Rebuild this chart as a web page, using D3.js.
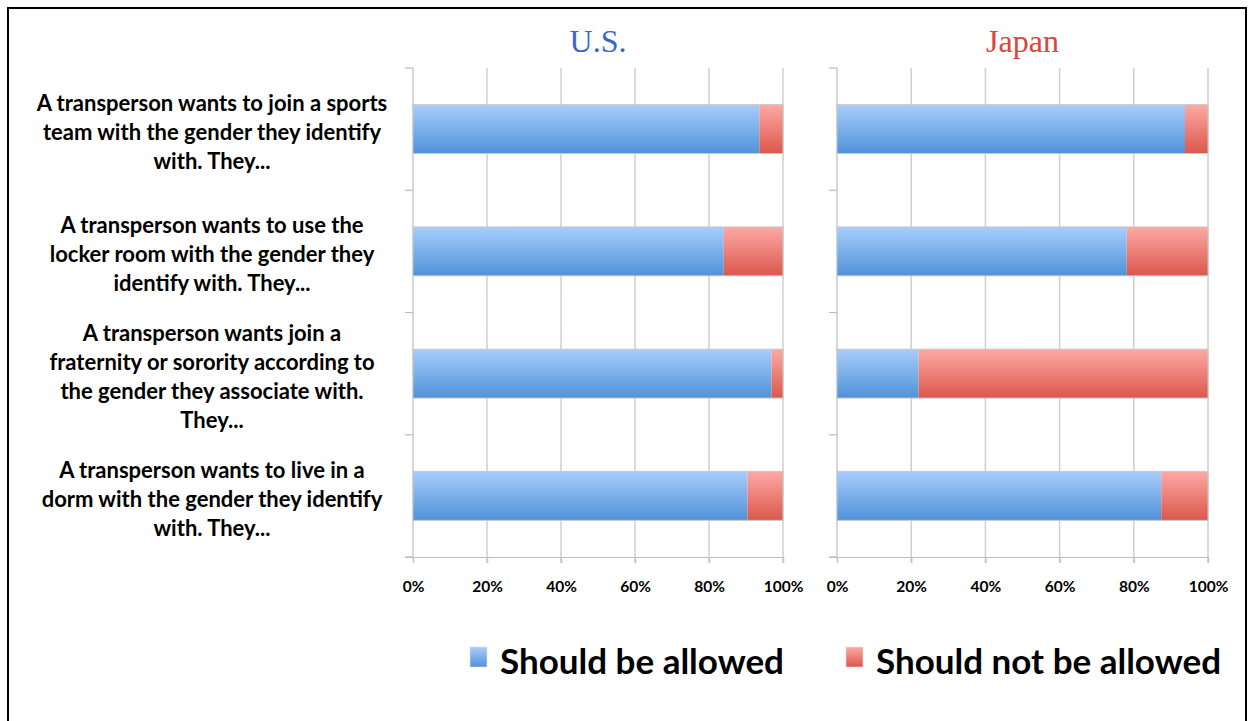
<!DOCTYPE html>
<html>
<head>
<meta charset="utf-8">
<script src="https://cdn.jsdelivr.net/npm/d3@7"></script>
<style>
  html, body { margin: 0; padding: 0; background: #fff; }
  svg { display: block; }
</style>
</head>
<body>
<svg id="chart" width="1252" height="721"></svg>
<script>
// Survey questions (one entry per row, pre-wrapped into lines)
const questions = [
  ["A transperson wants to join a sports", "team with the gender they identify", "with. They..."],
  ["A transperson wants to use the", "locker room with the gender they", "identify with. They..."],
  ["A transperson wants join a", "fraternity or sorority according to", "the gender they associate with.", "They..."],
  ["A transperson wants to live in a", "dorm with the gender they identify", "with. They..."]
];
const seriesNames = ["Should be allowed", "Should not be allowed"];
const panelTitles = ["U.S.", "Japan"];

// Percent of respondents per question
const usAllowed = [93.6, 84.0, 96.9, 90.4];
const usNotAllowed = [6.4, 16.0, 3.1, 9.6];
const japanAllowed = [93.8, 78.1, 22.0, 87.4];
const japanNotAllowed = [6.2, 21.9, 78.0, 12.6];

const tickValues = [0, 20, 40, 60, 80, 100];

const svg = d3.select("#chart");

// Gradients for the two series
const defs = svg.append("defs");
const gradStops = [
  { id: "gBlue", top: "#a8cdfc", bottom: "#4f92d8" },
  { id: "gRed", top: "#fda9a4", bottom: "#db574c" }
];
gradStops.forEach(g => {
  const lg = defs.append("linearGradient").attr("id", g.id)
    .attr("x1", 0).attr("y1", 0).attr("x2", 0).attr("y2", 1);
  lg.append("stop").attr("offset", "0%").attr("stop-color", g.top);
  lg.append("stop").attr("offset", "100%").attr("stop-color", g.bottom);
});
const fills = ["url(#gBlue)", "url(#gRed)"];

// Outer frame
svg.append("path")
  .attr("d", "M8,721 L8,8 L1246,8 L1246,721")
  .attr("fill", "none").attr("stroke", "#000").attr("stroke-width", 2);

const y = d3.scaleBand()
  .domain(d3.range(questions.length))
  .range([68, 557])
  .paddingInner(0.6)
  .paddingOuter(0.3);

const panels = [
  { title: panelTitles[0], color: "#3767c8", x0: 413, x1: 783, values: [usAllowed, usNotAllowed] },
  { title: panelTitles[1], color: "#d9463c", x0: 837, x1: 1208, values: [japanAllowed, japanNotAllowed] }
];

panels.forEach(p => {
  const x = d3.scaleLinear().domain([0, 100]).range([p.x0, p.x1]);
  const g = svg.append("g");

  // Vertical gridlines
  g.selectAll("line.grid").data(tickValues.slice(1)).join("line")
    .attr("x1", d => x(d)).attr("x2", d => x(d))
    .attr("y1", 68).attr("y2", 563)
    .attr("stroke", "#cfcfcf").attr("stroke-width", 1.5);

  // Bottom axis
  const xAxis = d3.axisBottom(x).tickValues(tickValues)
    .tickFormat(d => d + "%").tickSize(6).tickPadding(18);
  const ax = g.append("g").attr("transform", "translate(0,557)").call(xAxis);
  ax.select(".domain").attr("d", `M${p.x0 - 8},0.5H${p.x1}`).attr("stroke", "#bdbdbd").attr("stroke-width", 1.2);
  ax.selectAll(".tick line").attr("stroke", "#c4c4c4").attr("stroke-width", 1.5);
  ax.selectAll(".tick text")
    .attr("fill", "#000")
    .style("font-family", "Lato, 'Open Sans', sans-serif")
    .style("font-weight", "bold")
    .style("font-size", "15.5px");

  // Left axis with category separators
  const bounds = y.domain().map(i => y(i) - y.step() * y.paddingInner() / 2);
  g.append("line")
    .attr("x1", p.x0).attr("x2", p.x0).attr("y1", 68).attr("y2", 557)
    .attr("stroke", "#bdbdbd").attr("stroke-width", 1.2);
  g.selectAll("line.sep").data([68, ...bounds.slice(1), 557]).join("line")
    .attr("x1", p.x0 - 8).attr("x2", p.x0).attr("y1", d => d).attr("y2", d => d)
    .attr("stroke", "#bdbdbd").attr("stroke-width", 1.2);

  // Stacked bars
  const rows = y.domain().map(i => ({ i, a: p.values[0][i], b: p.values[1][i] }));
  const stack = d3.stack().keys(["a", "b"])(rows);
  stack.forEach((layer, k) => {
    g.selectAll(null).data(layer).join("rect")
      .attr("x", d => x(d[0]))
      .attr("y", d => y(d.data.i))
      .attr("width", d => x(d[1]) - x(d[0]))
      .attr("height", y.bandwidth())
      .attr("fill", fills[k]);
  });
  // Soft outline around each whole bar
  g.selectAll(null).data(rows).join("rect")
    .attr("x", x(0)).attr("y", d => y(d.i))
    .attr("width", x(100) - x(0)).attr("height", y.bandwidth())
    .attr("fill", "none").attr("stroke", "#c8c8c8").attr("stroke-width", 1);

  // Panel title
  svg.append("text")
    .attr("x", (p.x0 + p.x1) / 2).attr("y", 52)
    .attr("text-anchor", "middle")
    .attr("fill", p.color)
    .style("font-family", "'Liberation Serif', 'DejaVu Serif', serif")
    .style("font-size", "32px")
    .text(p.title);
});

// Question labels
const labelG = svg.append("g");
questions.forEach((lines, i) => {
  const cy = y(i) + y.bandwidth() / 2;
  const lh = 29;
  const startY = cy - (lines.length - 1) * lh / 2 + 11;
  const t = labelG.append("text")
    .attr("text-anchor", "middle")
    .style("font-family", "Lato, 'Open Sans', sans-serif")
    .style("font-weight", "bold")
    .style("font-size", "22px")
    .attr("fill", "#000");
  lines.forEach((ln, j) => {
    t.append("tspan").attr("x", 212).attr("y", startY + j * lh).text(ln);
  });
});

// Legend
const legendItems = [
  { x: 470, name: seriesNames[0], fill: fills[0] },
  { x: 846, name: seriesNames[1], fill: fills[1] }
];
const lg = svg.append("g");
legendItems.forEach(it => {
  lg.append("rect").attr("x", it.x).attr("y", 647).attr("width", 17).attr("height", 20)
    .attr("fill", it.fill).attr("stroke", "#e0e0e0").attr("stroke-width", 0.6);
  lg.append("text").attr("x", it.x + 30).attr("y", 674)
    .style("font-family", "Lato, 'Open Sans', sans-serif")
    .style("font-weight", "bold")
    .style("font-size", "35px")
    .attr("fill", "#000")
    .text(it.name);
});
</script>
</body>
</html>
